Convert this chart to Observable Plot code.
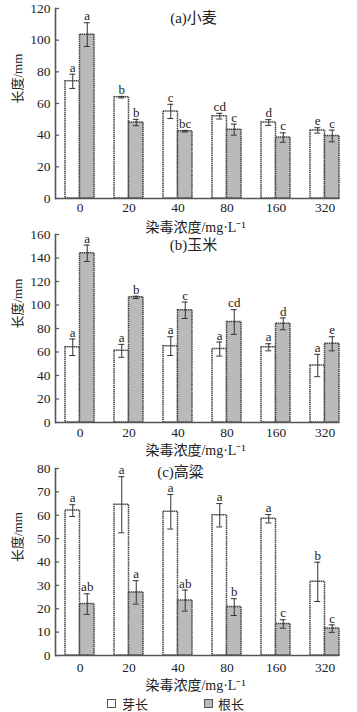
<!DOCTYPE html>
<html><head><meta charset="utf-8">
<script src="https://cdn.jsdelivr.net/npm/d3@7"></script>
<script src="https://cdn.jsdelivr.net/npm/@observablehq/plot@0.6"></script>
<style>
body{margin:0;background:#fff;width:357px;overflow:hidden}
#chart svg{display:block}
.legend{height:18px;position:relative;font-family:"Noto Sans CJK SC",sans-serif;font-size:13px;color:#222}
.legend .sw{position:absolute;top:5px;width:9px;height:9px;border:1.3px solid #555;box-sizing:border-box}
.legend .lb{position:absolute;top:1px;line-height:18px}
</style></head><body><div id="chart"></div>
<script>
const concentrations = ["0","20","40","80","160","320"];
const seriesNames = ["芽长","根长"];
const xTitle = "染毒浓度/mg·L⁻¹";
const yTitle = "长度/mm";

const wheatTitle = "(a)小麦";
const wheatShoot = [74, 64, 55, 52, 48, 43];
const wheatShootErr = [4.5, 0.5, 4.5, 1.8, 1.8, 1.7];
const wheatShootLetters = ["a","b","c","cd","d","e"];
const wheatRoot = [103.5, 48, 42.5, 43.5, 38.5, 39.5];
const wheatRootErr = [7.5, 2, 0.5, 3.5, 3, 3.7];
const wheatRootLetters = ["a","b","bc","c","c","c"];
const wheatTicks = [0,20,40,60,80,100,120];

const maizeTitle = "(b)玉米";
const maizeShoot = [64, 61, 65, 62.5, 64, 48.5];
const maizeShootErr = [7, 5.5, 8, 6, 3, 9.5];
const maizeShootLetters = ["a","a","a","a","a","a"];
const maizeRoot = [144, 106.5, 95.5, 85.5, 84, 67];
const maizeRootErr = [7, 1, 7, 10.5, 5, 6];
const maizeRootLetters = ["a","b","c","cd","d","e"];
const maizeTicks = [0,20,40,60,80,100,120,140,160];

const sorghumTitle = "(c)高粱";
const sorghumShoot = [62, 64.5, 61.5, 60, 58.5, 31.5];
const sorghumShootErr = [2.5, 12, 7.4, 5, 1.8, 8.4];
const sorghumShootLetters = ["a","a","a","a","a","b"];
const sorghumRoot = [22, 27, 23.5, 20.7, 13.5, 11.5];
const sorghumRootErr = [4.4, 5, 4.5, 3.6, 1.8, 1.6];
const sorghumRootLetters = ["ab","a","ab","b","c","c"];
const sorghumTicks = [0,10,20,30,40,50,60,70,80];

const serif = '"Liberation Serif","Times New Roman","Noto Sans CJK SC",serif';
const W = 357, ML = 55, MR = 18;

function rows(vals, errs, letters) {
  return concentrations.map((c, i) => ({conc: c, value: vals[i], err: errs[i], letter: letters[i]}));
}

function panel(o) {
  const shoot = rows(o.shoot, o.shootErr, o.shootLetters);
  const root = rows(o.root, o.rootErr, o.rootLetters);
  const frameW = W - ML - MR;
  const half = 7.25;
  const ink = "#444";
  return Plot.plot({
    width: W, height: o.height,
    marginLeft: ML, marginRight: MR, marginTop: o.mt, marginBottom: o.mb,
    style: {fontFamily: serif, color: "#222", background: "#fff", overflow: "visible"},
    x: {domain: concentrations, range: [54.5, 349], paddingInner: 0.41, paddingOuter: 0.205, axis: null},
    y: {domain: [0, o.max], axis: null},
    marks: [
      Plot.barY(shoot, {x: "conc", y: "value", insetRight: 14.5, fill: "#fff", stroke: ink, strokeWidth: 1.5, strokeDasharray: "1.5,0.6"}),
      Plot.barY(root, {x: "conc", y: "value", insetLeft: 14.5, fill: "#bababa", stroke: ink, strokeWidth: 1.5, strokeDasharray: "1.5,0.6"}),
      Plot.ruleX(shoot, {x: "conc", y1: d => d.value - d.err, y2: d => d.value + d.err, dx: -half, stroke: "#333", strokeWidth: 1}),
      Plot.ruleX(root, {x: "conc", y1: d => d.value - d.err, y2: d => d.value + d.err, dx: half, stroke: "#333", strokeWidth: 1}),
      Plot.tickY(shoot, {x: "conc", y: d => d.value - d.err, insetLeft: 4.25, insetRight: 18.75, stroke: "#333", strokeWidth: 1}),
      Plot.tickY(shoot, {x: "conc", y: d => d.value + d.err, insetLeft: 4.25, insetRight: 18.75, stroke: "#333", strokeWidth: 1}),
      Plot.tickY(root, {x: "conc", y: d => d.value - d.err, insetLeft: 18.75, insetRight: 4.25, stroke: "#333", strokeWidth: 1}),
      Plot.tickY(root, {x: "conc", y: d => d.value + d.err, insetLeft: 18.75, insetRight: 4.25, stroke: "#333", strokeWidth: 1}),
      Plot.text(shoot, {x: "conc", y: d => d.value + d.err, text: "letter", dx: -half, dy: -6.5, fontSize: 13, fill: "#222", fontFamily: serif}),
      Plot.text(root, {x: "conc", y: d => d.value + d.err, text: "letter", dx: half, dy: -6.5, fontSize: 13, fill: "#222", fontFamily: serif}),
      Plot.ruleY([0], {stroke: "#555", strokeWidth: 1.6}),
      Plot.frame({anchor: "left", stroke: "#555", strokeWidth: 1.6, strokeDasharray: "1.5,0.6"}),
      Plot.ruleY(o.ticks, {y: d => d, insetRight: frameW - 4, stroke: "#555", strokeWidth: 1.2}),
      Plot.axisY({ticks: o.ticks, tickSize: 0, tickPadding: 5, fontSize: 13.5, fontFamily: serif, label: null}),
      Plot.axisX({tickSize: 0, tickPadding: o.xpad, fontSize: 13.5, fontFamily: serif, label: null}),
      Plot.text([o.title], {frameAnchor: "top", dx: o.tdx, dy: o.tdy, lineAnchor: "middle", fontSize: 15, fontFamily: serif, fill: "#222"}),
      Plot.text([yTitle], {frameAnchor: "left", dx: -38, rotate: -90, lineAnchor: "middle", fontSize: 13, fontFamily: serif, fill: "#222"}),
      Plot.text([xTitle], {frameAnchor: "bottom", dx: -2, dy: o.xtdy, lineAnchor: "middle", fontSize: 14, fontFamily: serif, fill: "#222"})
    ]
  });
}

const chart = document.getElementById("chart");
chart.append(panel({height: 232, mt: 8, mb: 34, max: 120, ticks: wheatTicks, title: wheatTitle, tdx: -4, tdy: 10, xpad: 4, xtdy: 29,
  shoot: wheatShoot, shootErr: wheatShootErr, shootLetters: wheatShootLetters, root: wheatRoot, rootErr: wheatRootErr, rootLetters: wheatRootLetters}));
chart.append(panel({height: 234, mt: 2, mb: 44, max: 160, ticks: maizeTicks, title: maizeTitle, tdx: -4, tdy: 11, xpad: 5, xtdy: 28,
  shoot: maizeShoot, shootErr: maizeShootErr, shootLetters: maizeShootLetters, root: maizeRoot, rootErr: maizeRootErr, rootLetters: maizeRootLetters}));
chart.append(panel({height: 228, mt: 2, mb: 39, max: 80, ticks: sorghumTicks, title: sorghumTitle, tdx: -17, tdy: 4, xpad: 7, xtdy: 30,
  shoot: sorghumShoot, shootErr: sorghumShootErr, shootLetters: sorghumShootLetters, root: sorghumRoot, rootErr: sorghumRootErr, rootLetters: sorghumRootLetters}));

const legend = document.createElement("div");
legend.className = "legend";
legend.innerHTML =
  `<span class="sw" style="left:107px;background:#fff"></span><span class="lb" style="left:122px">${seriesNames[0]}</span>` +
  `<span class="sw" style="left:204px;background:#bababa"></span><span class="lb" style="left:218px">${seriesNames[1]}</span>`;
chart.append(legend);
</script>
</body></html>
